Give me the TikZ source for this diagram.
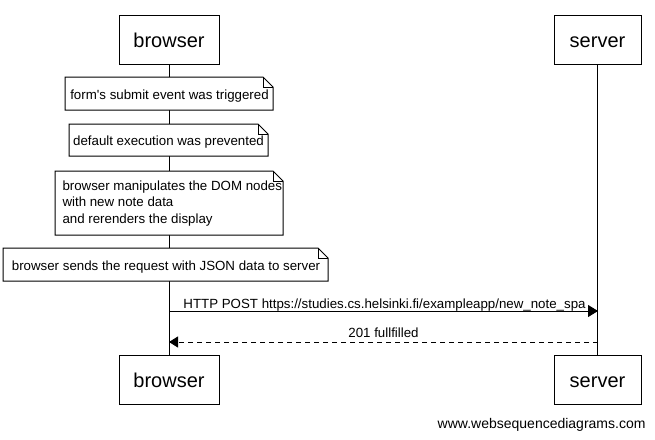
\documentclass[tikz,border=0pt]{standalone}
\usepackage{fontspec}
\setmainfont{Liberation Sans}
\usetikzlibrary{arrows.meta}
\begin{document}
\begin{tikzpicture}[x=1pt,y=-1pt,line width=1pt,
  partbox/.style={draw=black,fill=white,minimum width=100pt,minimum height=49pt,inner sep=0pt,font=\fontsize{20}{24}\selectfont},
  notetext/.style={inner sep=0pt,font=\fontsize{13.3}{16.5}\selectfont},
  msgtext/.style={inner sep=0pt,font=\fontsize{13.3}{16}\selectfont,anchor=base},
  lifeline/.style={draw=black,line width=1pt},
  notebox/.style={draw=black,fill=white,line join=miter}]
\useasboundingbox (0,0) rectangle (655,439);
\fill[white] (0,0) rectangle (655,439);
% participants
\node[partbox] (bt) at (169,39.5) {};
\node[partbox,minimum width=87pt] (st) at (597.5,39.5) {};
\node[partbox] (bb) at (169,380) {};
\node[partbox,minimum width=87pt] (sb) at (597.5,380) {};
\node[anchor=base,inner sep=0pt,font=\fontsize{20}{24}\selectfont] (btl) at (169,47) {browser};
\node[anchor=base,inner sep=0pt,font=\fontsize{20}{24}\selectfont] (stl) at (597.5,47) {server};
\node[anchor=base,inner sep=0pt,font=\fontsize{20}{24}\selectfont] (bbl) at (169,387.5) {browser};
\node[anchor=base,inner sep=0pt,font=\fontsize{20}{24}\selectfont] (sbl) at (597.5,387.5) {server};
% lifelines
\draw[lifeline] (bt.south) -- (bb.north);
\draw[lifeline] (st.south) -- (sb.north);
% notes
\newcommand\mynote[4]{%
  \draw[notebox] (#1,#2) -- (#3-10,#2) -- (#3,#2+10) -- (#3,#4) -- (#1,#4) -- cycle;
  \draw (#3-10,#2) -- (#3-10,#2+10) -- (#3,#2+10);
}
\mynote{65}{77}{273}{110}
\mynote{69}{124}{268}{156}
\mynote{55}{171}{283}{235}
\mynote{3}{248}{328}{281}
\node[notetext,anchor=base] (n1) at (169.5,99) {form\textquotesingle s submit event was triggered};
\node[notetext,anchor=base] (n2) at (168.5,145.5) {default execution was prevented};
\node[notetext,anchor=base west] (n3a) at (62,190) {browser manipulates the DOM nodes};
\node[notetext,anchor=base west] (n3b) at (62,206.5) {with new note data};
\node[notetext,anchor=base west] (n3c) at (62,223) {and rerenders the display};
\node[notetext,anchor=base] (n4) at (166,270) {browser sends the request with JSON data to server};
% messages
\coordinate (m1s) at (169,311);
\coordinate (m1e) at (598,311);
\coordinate (m2s) at (598,342);
\coordinate (m2e) at (169,342);
\draw[-{Triangle[length=10pt,width=12pt]}] (m1s) -- (m1e);
\draw[dash pattern=on 5pt off 4pt,-{Triangle[length=9pt,width=11pt]}] (m2s) -- (m2e);
\node[msgtext] (l1) at (384.5,308) {HTTP POST https://studies.cs.helsinki.fi/exampleapp/new\_note\_spa};
\node[msgtext] (l2) at (383.5,337.5) {201 fullfilled};
% watermark
\node[anchor=base east,inner sep=0pt,font=\fontsize{14}{16}\selectfont] (wm) at (646,428) {www.websequencediagrams.com};
\end{tikzpicture}
\end{document}
